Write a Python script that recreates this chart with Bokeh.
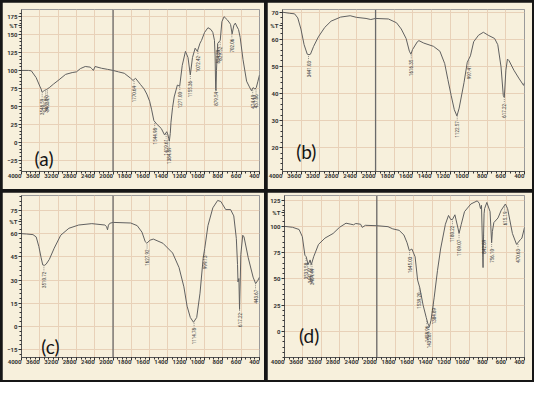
import numpy as np
from bokeh.plotting import figure
from bokeh.models import Range1d, FixedTicker, Span, Label
from bokeh.layouts import row, column
from bokeh.embed import file_html
from bokeh.resources import INLINE
from bokeh.core.properties import value

# ---------------- data (wavenumber 1/cm, %T) ----------------
a_wn = [4000, 3850, 3786, 3680, 3600, 3571, 3550, 3520, 3500, 3450, 3393, 3300, 3179, 3036, 2893, 2800,
        2714, 2607, 2500, 2464, 2429, 2393, 2250, 2120, 2000, 1940, 1877, 1807, 1782, 1754, 1701, 1660,
        1631, 1600, 1578, 1554, 1525, 1473, 1437, 1413, 1400, 1392, 1385, 1375, 1367, 1350, 1332, 1297,
        1272, 1244, 1209, 1181, 1156, 1132, 1103, 1079, 1050, 1033, 1000, 963, 930, 910, 892, 885, 879,
        875, 870, 857, 829, 811, 787, 752, 725, 716, 699, 680, 664, 650, 629, 611, 580, 541, 510, 488,
        470, 450, 435, 417, 400]
a_t = [100, 100, 99.5, 90, 78, 74, 69.5, 71, 72, 73.5, 76, 81, 87, 94.5, 97, 98,
       102.5, 105.5, 104.6, 102.5, 100, 105.5, 103, 101.5, 100, 98, 96, 89, 86, 89, 80.5, 74,
       67, 57, 45, 30, 25.5, 19, 10, 14.5, 10, 5, 1.3, 12, 27.7, 48, 63, 79.6,
       78, 107, 126.6, 118, 93.7, 118, 131, 126.6, 138, 142, 153, 159.6, 157, 153, 142, 120, 75,
       71.7, 100, 137.6, 142, 168, 175, 170.6, 166, 164, 151, 163, 166, 162, 157, 146, 115, 85, 77, 71.7,
       76, 74, 76, 85, 93.7]
a_pk = [3548.59, 3471.87, 3433.29, 1770.64, 1544.98, 1419.61, 1384.89, 1271.00, 1155.36, 1072.42,
        879.54, 854.39, 829.52, 702.06, 474.49, 437.86]

b_wn = [4000, 3843, 3741, 3672, 3604, 3536, 3468, 3430, 3399, 3331, 3229, 3092, 2956, 2751, 2546, 2410,
        2205, 2102, 2000, 1862, 1775, 1724, 1672, 1637, 1620, 1603, 1551, 1534, 1482, 1378, 1309, 1257,
        1223, 1188, 1154, 1126, 1102, 1050, 1015, 998, 981, 946, 894, 842, 790, 721, 687, 652, 628, 617,
        600, 583, 566, 514, 462, 410, 400]
b_t = [70, 69.6, 69.4, 67.9, 63.8, 58, 54.5, 54.3, 54.5, 57.4, 60.9, 64.4, 66.7, 68.2, 68.7, 68.1,
       67.7, 67.3, 67.7, 67.5, 66.1, 63.8, 60.3, 55.6, 54.5, 56.2, 59.1, 59.5, 58.6, 57.4, 55.6, 51,
       45.1, 39.3, 34, 31.7, 34.6, 44, 51.5, 52.7, 53.9, 59.1, 61.5, 62.6, 61.5, 60.3, 58, 49.8, 39.3, 38.5,
       48.6, 52.7, 52.1, 48.6, 45.7, 43, 44]
b_pk = [3441.03, 1616.35, 1122.57, 997.41, 617.22]

c_wn = [4000, 3893, 3750, 3679, 3621, 3571, 3536, 3500, 3464, 3393, 3286, 3143, 2964, 2750, 2464, 2179,
        2140, 2121, 2100, 2071, 2000, 1807, 1736, 1684, 1648, 1631, 1596, 1560, 1455, 1349, 1279, 1226,
        1191, 1156, 1121, 1086, 1050, 1015, 998, 963, 910, 857, 822, 769, 716, 681, 653, 640, 635, 625,
        618, 610, 604, 583, 569, 523, 470, 442, 418, 400]
c_t = [60, 59.8, 59.4, 57.9, 51.7, 44.4, 39.8, 39.5, 40.2, 43.3, 50.6, 59, 63.5, 65.6, 66.5, 65.6,
       64.5, 62.5, 65.5, 66.7, 67.3, 66.9, 65.2, 61, 54.8, 53.8, 55.8, 56.5, 53.8, 47.5, 38.1, 25.6,
       13.1, 5.8, 2.7, 5.8, 21.5, 44.4, 50.6, 65.2, 76.7, 81.5, 80.8, 75.6, 75.6, 71.5, 56.9, 40, 28.8, 31,
       11, 30, 46.5, 59, 57.9, 44.4, 31.9, 27.7, 29.8, 31.9]
c_pk = [3510.72, 1627.92, 1114.78, 999.13, 617.22, 443.67]

d_wn = [4000, 3825, 3684, 3614, 3558, 3530, 3488, 3446, 3418, 3368, 3263, 3123, 2947, 2807, 2667, 2561,
        2505, 2456, 2351, 2316, 2246, 2000, 1879, 1827, 1758, 1706, 1672, 1648, 1620, 1585, 1558, 1534,
        1499, 1465, 1447, 1430, 1413, 1378, 1343, 1309, 1257, 1223, 1199, 1181, 1154, 1119, 1109, 1085,
        1050, 981, 912, 890, 877, 866, 852, 849, 845, 838, 832, 808, 773, 765, 756, 748, 732, 687, 652,
        607, 583, 531, 486, 445, 428, 400]
d_t = [100, 99.1, 97, 90.2, 72.5, 71, 63.6, 68, 63.6, 71, 82.8, 88.8, 93.2, 99.1, 103, 102,
       101.5, 102.7, 102, 99, 101, 100.6, 99.7, 97.6, 96.2, 91.7, 84.3, 76.9, 78.4, 71, 48.8, 41.4,
       25.1, 13.3, 7.4, 4.4, 10.4, 32.5, 57.7, 78.4, 102, 110.4, 106.5, 106.5, 111, 97.6, 93.2, 102,
       114, 121.3, 124.3, 122, 116.9, 120, 70, 60.7, 85, 112, 116.9, 122.8, 114, 100, 84.3, 95, 103.6, 108, 115.4,
       121.3, 116.9, 93.2, 82.8, 87.3, 88.8, 99]
d_pk = [3533.58, 3441.01, 3404.44, 1645.03, 1539.20, 1458.96, 1435.87, 1384.89, 1180.22, 1109.07,
        842.89, 756.10, 615.19, 470.63]

x_tick_wn = [4000, 3600, 3200, 2800, 2400, 2000, 1800, 1600, 1400, 1200, 1000, 800, 600, 400]
a_yticks = [-25, 0, 25, 50, 75, 100, 125, 150, 175]
b_yticks = [20, 30, 40, 50, 60, 70]
c_yticks = [-15, 0, 15, 30, 45, 60, 75]
d_yticks = [0, 25, 50, 75, 100, 125]

BG = "#f7f0dc"
INK = "#606060"
GRID = "#e8d1b8"
FONT = "Roboto"


def tx(w):
    """Shimadzu-style axis: the 4000-2000 region is drawn at half scale."""
    w = np.asarray(w, dtype=float)
    return np.where(w > 2000, 2000 + (w - 2000) / 2.0, w)


def panel(wn, t, pk, tag, tag_wn, tag_y, yr, yticks, ystep, pct, w, h, bl, br, bt, bb):
    p = figure(width=w, height=h, output_backend="svg", toolbar_location=None,
               x_range=Range1d(3000, 400), y_range=Range1d(*yr),
               min_border_left=bl, min_border_right=br, min_border_top=bt, min_border_bottom=bb)
    p.background_fill_color = BG
    p.border_fill_color = BG
    p.outline_line_color = "#9a9a9a"
    p.outline_line_width = 1

    xt = [int(v) for v in tx(x_tick_wn)]
    p.xaxis.ticker = FixedTicker(ticks=xt, minor_ticks=list(range(400, 3001, 50)))
    p.xaxis.major_label_overrides = {k: str(v) for k, v in zip(xt, x_tick_wn)}
    yt = list(yticks) + [pct]
    p.yaxis.ticker = FixedTicker(ticks=yt, minor_ticks=[float(v) for v in np.arange(yr[0] - yr[0] % ystep, yr[1], ystep)])
    p.yaxis.major_label_overrides = {pct: "%T"}
    p.xgrid.ticker = FixedTicker(ticks=xt)
    p.ygrid.ticker = FixedTicker(ticks=list(yticks))
    for g in (p.xgrid, p.ygrid):
        g.grid_line_color = GRID
        g.grid_line_width = 1
    for ax in (p.xaxis, p.yaxis):
        ax.axis_line_color = "#555555"
        ax.major_tick_line_color = "#333333"
        ax.minor_tick_line_color = "#333333"
        ax.major_tick_out = 3
        ax.major_tick_in = 0
        ax.minor_tick_out = 2
        ax.minor_tick_in = 0
        ax.major_label_text_font = FONT
        ax.major_label_text_font_size = "6px"
        ax.major_label_text_font_style = "bold"
        ax.major_label_text_color = "#333333"
        ax.major_label_standoff = 1
    p.xaxis.major_label_orientation = 0

    p.add_layout(Span(location=2000, dimension="height", line_color="#6a6a6a", line_width=1.3))

    p.line(tx(wn), t, line_color=INK, line_width=1)

    # peak annotations
    ppx = (yr[1] - yr[0]) / (h - bt - bb)
    pk = np.asarray(pk)
    py = np.interp(pk[::-1], np.asarray(wn)[::-1], np.asarray(t)[::-1])[::-1]
    p.segment(x0=tx(pk), y0=py - 1.5 * ppx, x1=tx(pk), y1=py - 6 * ppx,
              line_color="#666666", line_width=0.7, line_dash="1 1")
    p.text(x=tx(pk), y=py - 6.5 * ppx, text=[f"{v:.2f}" for v in pk], angle=np.pi / 2,
           text_align="right", text_baseline="middle", text_font=value(FONT),
           text_font_size="4.5px", text_color="#3a3a3a")

    p.add_layout(Label(x=float(tx(tag_wn)), y=tag_y, text=tag, text_font="Lato",
                       text_font_size="19px", text_color="#151515", text_baseline="middle"))
    p.add_layout(Label(x=400, y=yr[0], y_offset=-15, x_offset=-1, text="1/cm", text_align="right",
                       text_font=FONT, text_font_size="5px", text_font_style="bold",
                       text_color="#333333"))
    return p


pa = panel(a_wn, a_t, a_pk, "(a)", 3714, -23, (-41, 185), a_yticks, 5, 163, 262, 187, 19, 5, 5, 18)
pb = panel(b_wn, b_t, b_pk, "(b)", 3706, 18.6, (11.2, 71), b_yticks, 2, 65, 265, 187, 12, 8, 7, 16)
pc = panel(c_wn, c_t, c_pk, "(c)", 3571, -13.3, (-20.1, 84.7), c_yticks, 3, 68, 262, 188, 19, 5, 3, 23)
pd = panel(d_wn, d_t, d_pk, "(d)", 3684, -3.6, (-25, 129.4), d_yticks, 5, 113, 265, 188, 15, 8, 3, 17)

root = column(row(pa, pb, spacing=3), row(pc, pd, spacing=3), spacing=3,
              styles={"background-color": "#161616", "padding": "2px"})

open("out.html", "w").write(file_html(root, INLINE))
